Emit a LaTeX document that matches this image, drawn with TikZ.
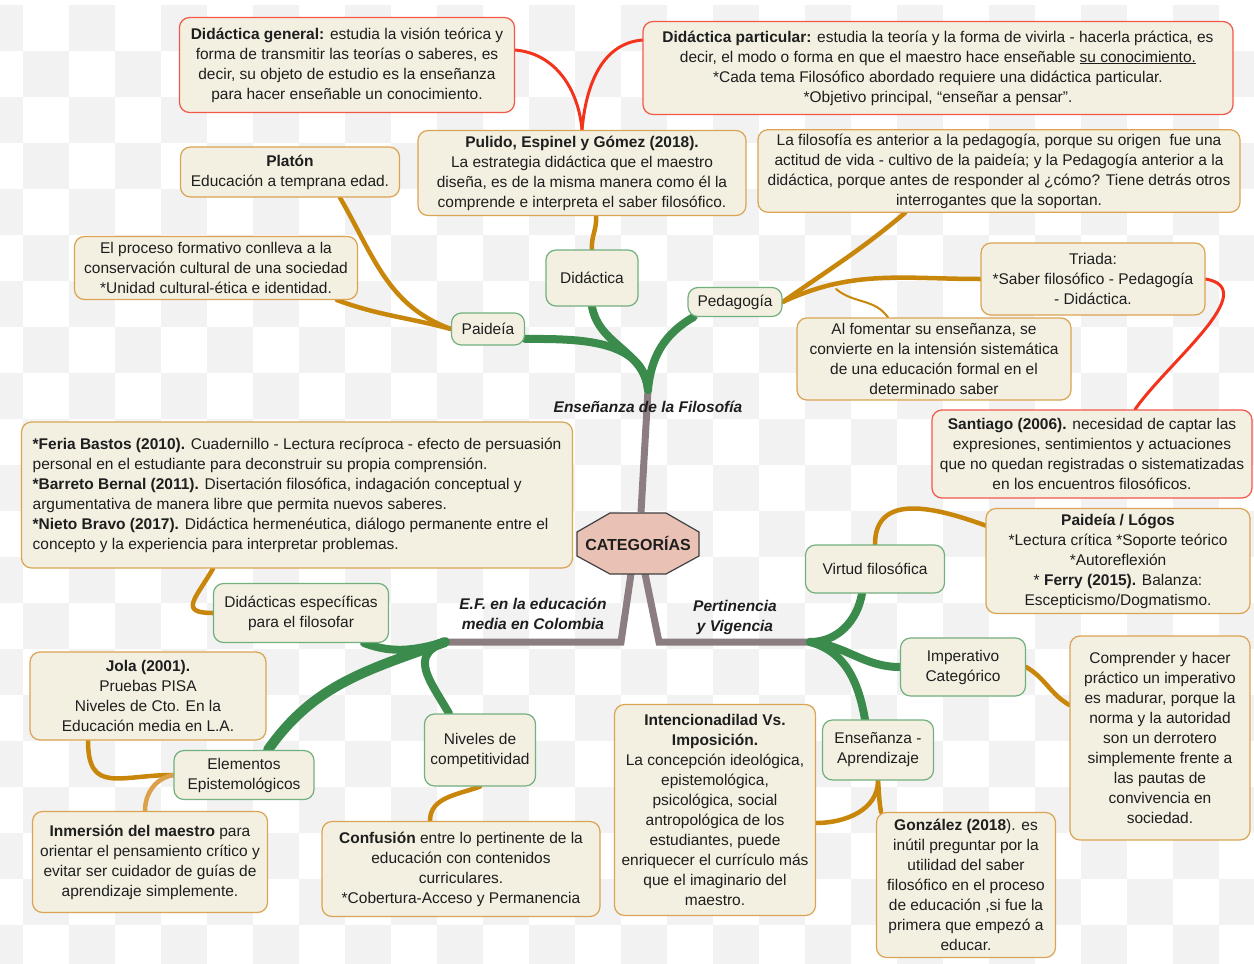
\documentclass[tikz,border=0pt]{standalone}
\usepackage{fontspec}
\setmainfont{Liberation Sans}
\definecolor{cream}{HTML}{F3F0E2}
\definecolor{ink}{HTML}{1E1E1E}
\definecolor{redline}{HTML}{F2584A}
\definecolor{orline}{HTML}{DBA453}
\definecolor{grline}{HTML}{72B07E}
\definecolor{grbranch}{HTML}{3A8B4C}
\definecolor{orbranch}{HTML}{C8860B}
\definecolor{orlight}{HTML}{DDA04A}
\definecolor{redbranch}{HTML}{F4331F}
\definecolor{trunkgray}{HTML}{8C7E80}
\definecolor{catfill}{HTML}{E9C2B5}
\definecolor{check}{HTML}{F2F2F2}
\pgfdeclarelayer{paper}
\pgfdeclarelayer{bg}
\pgfsetlayers{paper,bg,main}

\begin{document}
\begin{tikzpicture}[x=1pt,y=-1pt,
    every node/.style={font=\fontsize{15.5}{20}\selectfont,text=ink},
    box/.style={draw,rounded corners=10pt,fill=cream,line width=1.2pt,
                align=center,inner sep=4pt},
    redbox/.style={box,draw=redline},
    orbox/.style={box,draw=orline},
    topic/.style={box,draw=grline},
    tag/.style={font=\fontsize{15.5}{20}\selectfont\bfseries\itshape,align=center},
    trunk/.style={draw=trunkgray,line width=7pt},
    gbranch/.style={draw=grbranch,line width=8pt,line cap=round},
    obranch/.style={draw=orbranch,line width=4.5pt,line cap=round},
    rbranch/.style={draw=redbranch,line width=3pt,line cap=round}]

  \useasboundingbox (0,0) rectangle (1254,964);

  % checker paper
  \begin{pgfonlayer}{paper}
    \fill[white] (0,0) rectangle (1254,964);
    \foreach \i in {0,...,13}
      \foreach \j in {0,...,10} {
        \fill[check] (-23+92*\i,5+92*\j) rectangle ++(46,46);
        \fill[check] (23+92*\i,51+92*\j) rectangle ++(46,46);
      }
  \end{pgfonlayer}

  % centre
  \draw[fill=catfill,draw=black!75,line width=1.2pt]
    (577,532) -- (610,513) -- (666,513) -- (699,532) -- (699,556)
    -- (666,574) -- (610,574) -- (577,556) -- cycle;
  \node[minimum width=122,minimum height=61,
        font=\fontsize{16}{20}\selectfont\bfseries] (cat) at (638,543) {CATEGOR\'IAS};

  \coordinate (topEnd)    at (648,390);
  \coordinate (leftKnee)  at (621,642);
  \coordinate (leftEnd)   at (445,642);
  \coordinate (rightKnee) at (659,642);
  \coordinate (rightEnd)  at (810,642);
  \coordinate (pedFork)   at (836,289);

  \node[tag] (tTop)   at (648,407) {Enseñanza de la Filosofía};
  \node[tag] (tLeft)  at (533,614) {E.F. en la educación\\media en Colombia};
  \node[tag] (tRight) at (735,617) {Pertinencia\\y Vigencia};

  % topics
  \node[topic,minimum width=92,minimum height=56]  (Didactica)  at (592,278) {Didáctica};
  \node[topic,minimum width=73,minimum height=32]  (Paideia)    at (488,329) {Paideía};
  \node[topic,minimum width=94,minimum height=29]  (Pedagogia)  at (735,302) {Pedagogía};
  \node[topic,minimum width=175,minimum height=59] (DidEsp)     at (301,613) {Didácticas específicas\\para el filosofar};
  \node[topic,minimum width=140,minimum height=49] (Elementos)  at (244,775) {Elementos\\Epistemológicos};
  \node[topic,minimum width=111,minimum height=72] (Niveles)    at (480,750) {Niveles de\\competitividad};
  \node[topic,minimum width=139,minimum height=48] (Virtud)     at (875,569) {Virtud filosófica};
  \node[topic,minimum width=125,minimum height=58] (Imperativo) at (963,667) {Imperativo\\Categórico};
  \node[topic,minimum width=111,minimum height=60] (EnsApr)     at (878,750) {Enseñanza -\\Aprendizaje};

  % notes
  \node[redbox,minimum width=335,minimum height=95] (DidGen) at (347,65)
    {\textbf{Didáctica general:} estudia la visión teórica y\\
     forma de transmitir las teorías o saberes, es\\
     decir, su objeto de estudio es la enseñanza\\
     para hacer enseñable un conocimiento.};
  \node[redbox,minimum width=590,minimum height=93] (DidPart) at (938,68)
    {\textbf{Didáctica particular:} estudia la teoría y la forma de vivirla - hacerla práctica, es\\
     decir, el modo o forma en que el maestro hace enseñable \underline{su conocimiento.}\\
     *Cada tema Filosófico abordado requiere una didáctica particular.\\
     *Objetivo principal, “enseñar a pensar”.};
  \node[orbox,minimum width=328,minimum height=85] (Pulido) at (582,173)
    {\textbf{Pulido, Espinel y Gómez (2018).}\\
     La estrategia didáctica que el maestro\\
     diseña, es de la misma manera como él la\\
     comprende e interpreta el saber filosófico.};
  \node[orbox,minimum width=219,minimum height=50] (Platon) at (290,172)
    {\textbf{Platón}\\Educación a temprana edad.};
  \node[orbox,minimum width=482,minimum height=82] (Anterior) at (999,171)
    {La filosofía es anterior a la pedagogía, porque su origen\ \ fue una\\
     actitud de vida - cultivo de la paideía; y la Pedagogía anterior a la\\
     didáctica, porque antes de responder al ¿cómo? Tiene detrás otros\\
     interrogantes que la soportan.};
  \node[orbox,minimum width=283,minimum height=63] (Proceso) at (216,268)
    {El proceso formativo conlleva a la\\
     conservación cultural de una sociedad\\
     *Unidad cultural-ética e identidad.};
  \node[orbox,minimum width=224,minimum height=72] (Triada) at (1093,279)
    {Triada:\\*Saber filosófico - Pedagogía\\- Didáctica.};
  \node[orbox,minimum width=274,minimum height=82] (Fomentar) at (934,359)
    {Al fomentar su enseñanza, se\\
     convierte en la intensión sistemática\\
     de una educación formal en el\\
     determinado saber};
  \node[redbox,minimum width=320,minimum height=88] (Santiago) at (1092,454)
    {\textbf{Santiago (2006).} necesidad de captar las\\
     expresiones, sentimientos y actuaciones\\
     que no quedan registradas o sistematizadas\\
     en los encuentros filosóficos.};
  \node[orbox,align=left,minimum width=551,minimum height=146] (Feria) at (297,495)
    {\textbf{*Feria Bastos (2010).} Cuadernillo - Lectura recíproca - efecto de persuasión\\
     personal en el estudiante para deconstruir su propia comprensión.\\
     \textbf{*Barreto Bernal (2011).} Disertación filosófica, indagación conceptual y\\
     argumentativa de manera libre que permita nuevos saberes.\\
     \textbf{*Nieto Bravo (2017).} Didáctica hermenéutica, diálogo permanente entre el\\
     concepto y la experiencia para interpretar problemas.};
  \node[orbox,minimum width=264,minimum height=105] (Logos) at (1118,561)
    {\textbf{Paideía / Lógos}\\
     *Lectura crítica *Soporte teórico\\
     *Autoreflexión\\
     * \textbf{Ferry (2015).} Balanza:\\
     Escepticismo/Dogmatismo.};
  \node[orbox,minimum width=180,minimum height=204] (Comprender) at (1160,738)
    {Comprender y hacer\\práctico un imperativo\\es madurar, porque la\\
     norma y la autoridad\\son un derrotero\\simplemente frente a\\
     las pautas de\\convivencia en\\sociedad.};
  \node[orbox,minimum width=236,minimum height=88] (Jola) at (148,696)
    {\textbf{Jola (2001).}\\Pruebas PISA\\Niveles de Cto. En la\\Educación media en L.A.};
  \node[orbox,minimum width=235,minimum height=101] (Inmersion) at (150,862)
    {\textbf{Inmersión del maestro} para\\
     orientar el pensamiento crítico y\\
     evitar ser cuidador de guías de\\
     aprendizaje simplemente.};
  \node[orbox,minimum width=278,minimum height=95] (Confusion) at (461,869)
    {\textbf{Confusión} entre lo pertinente de la\\
     educación con contenidos\\
     curriculares.\\
     *Cobertura-Acceso y Permanencia};
  \node[orbox,minimum width=201,minimum height=211] (Intencion) at (715,810)
    {\textbf{Intencionadilad Vs.}\\\textbf{Imposición.}\\
     La concepción ideológica,\\epistemológica,\\psicológica, social\\
     antropológica de los\\estudiantes, puede\\enriquecer el currículo más\\
     que el imaginario del\\maestro.};
  \node[orbox,minimum width=179,minimum height=145] (Gonzalez) at (966,885)
    {\textbf{González (2018}). es\\inútil preguntar por la\\utilidad del saber\\
     filosófico en el proceso\\de educación ,si fue la\\primera que empezó a\\educar.};

  \begin{pgfonlayer}{bg}
    % trunks
    \draw[trunk] ([xshift=3]cat.north) -- (topEnd);
    \draw[trunk] ([xshift=-7]cat.south) -- (leftKnee) -- (leftEnd);
    \draw[trunk] ([xshift=7]cat.south) -- (rightKnee) -- (rightEnd);

    % green
    \path[gbranch] (topEnd) edge[out=95,in=0]   (Paideia.-15)
                            edge[out=95,in=-80] (Didactica.south)
                            edge[out=85,in=210] (Pedagogia.200);
    \path[gbranch] (leftEnd) edge[out=195,in=-20] ([xshift=-25]DidEsp.south east)
                             edge[out=200,in=120,looseness=1.4] ([xshift=-31]Niveles.north)
                             edge[out=200,in=55,line width=10pt] ([xshift=24]Elementos.north);
    \path[gbranch] (rightEnd) edge[out=0,in=-100]  ([xshift=-13]Virtud.south)
                              edge[out=-5,in=180]  (Imperativo.west)
                              edge[out=-15,in=100] ([xshift=-13]EnsApr.north);

    % orange
    \path[obranch] (Paideia.west) edge[out=160,in=-60] ([xshift=50]Platon.south)
                                  edge[out=165,in=-20] ([xshift=121]Proceso.south);
    \path[obranch] (Didactica.north) edge[out=95,in=-85] ([xshift=14]Pulido.south);
    \path[obranch] (Pedagogia.east) edge[out=35,in=-140] ([xshift=-94]Anterior.south)
                                    edge[out=25,in=180]  (Triada.west);
    \path[obranch,line width=2pt] (pedFork) edge[out=-40,in=125] ([xshift=-46]Fomentar.north);
    \path[obranch] (DidEsp.west) edge[out=180,in=-120,looseness=2] ([xshift=-84]Feria.south);
    \path[obranch] (Elementos.west) edge[out=180,in=-90,looseness=1.5] ([xshift=-60]Jola.south);
    \path[obranch,draw=orlight] (Elementos.west) edge[out=190,in=90] ([xshift=-5]Inmersion.north);
    \path[obranch] (Niveles.south) edge[out=200,in=90] ([xshift=-31]Confusion.north);
    \path[obranch] (Virtud.north) edge[out=90,in=160,looseness=1.2] (Logos.165);
    \path[obranch] (Imperativo.east) edge[out=-30,in=150] (Comprender.160);
    \path[obranch] (EnsApr.south) edge[out=-90,in=0]   ([yshift=-13]Intencion.east)
                                  edge[out=-85,in=100] ([xshift=-85]Gonzalez.north);

    % red
    \path[rbranch] (Pulido.north) edge[out=95,in=-5]  ([yshift=15]DidGen.east)
                                  edge[out=85,in=185] ([yshift=28]DidPart.west);
    \path[rbranch] (Triada.east) edge[out=-10,in=55] ([xshift=43]Santiago.north);
  \end{pgfonlayer}
\end{tikzpicture}
\end{document}
